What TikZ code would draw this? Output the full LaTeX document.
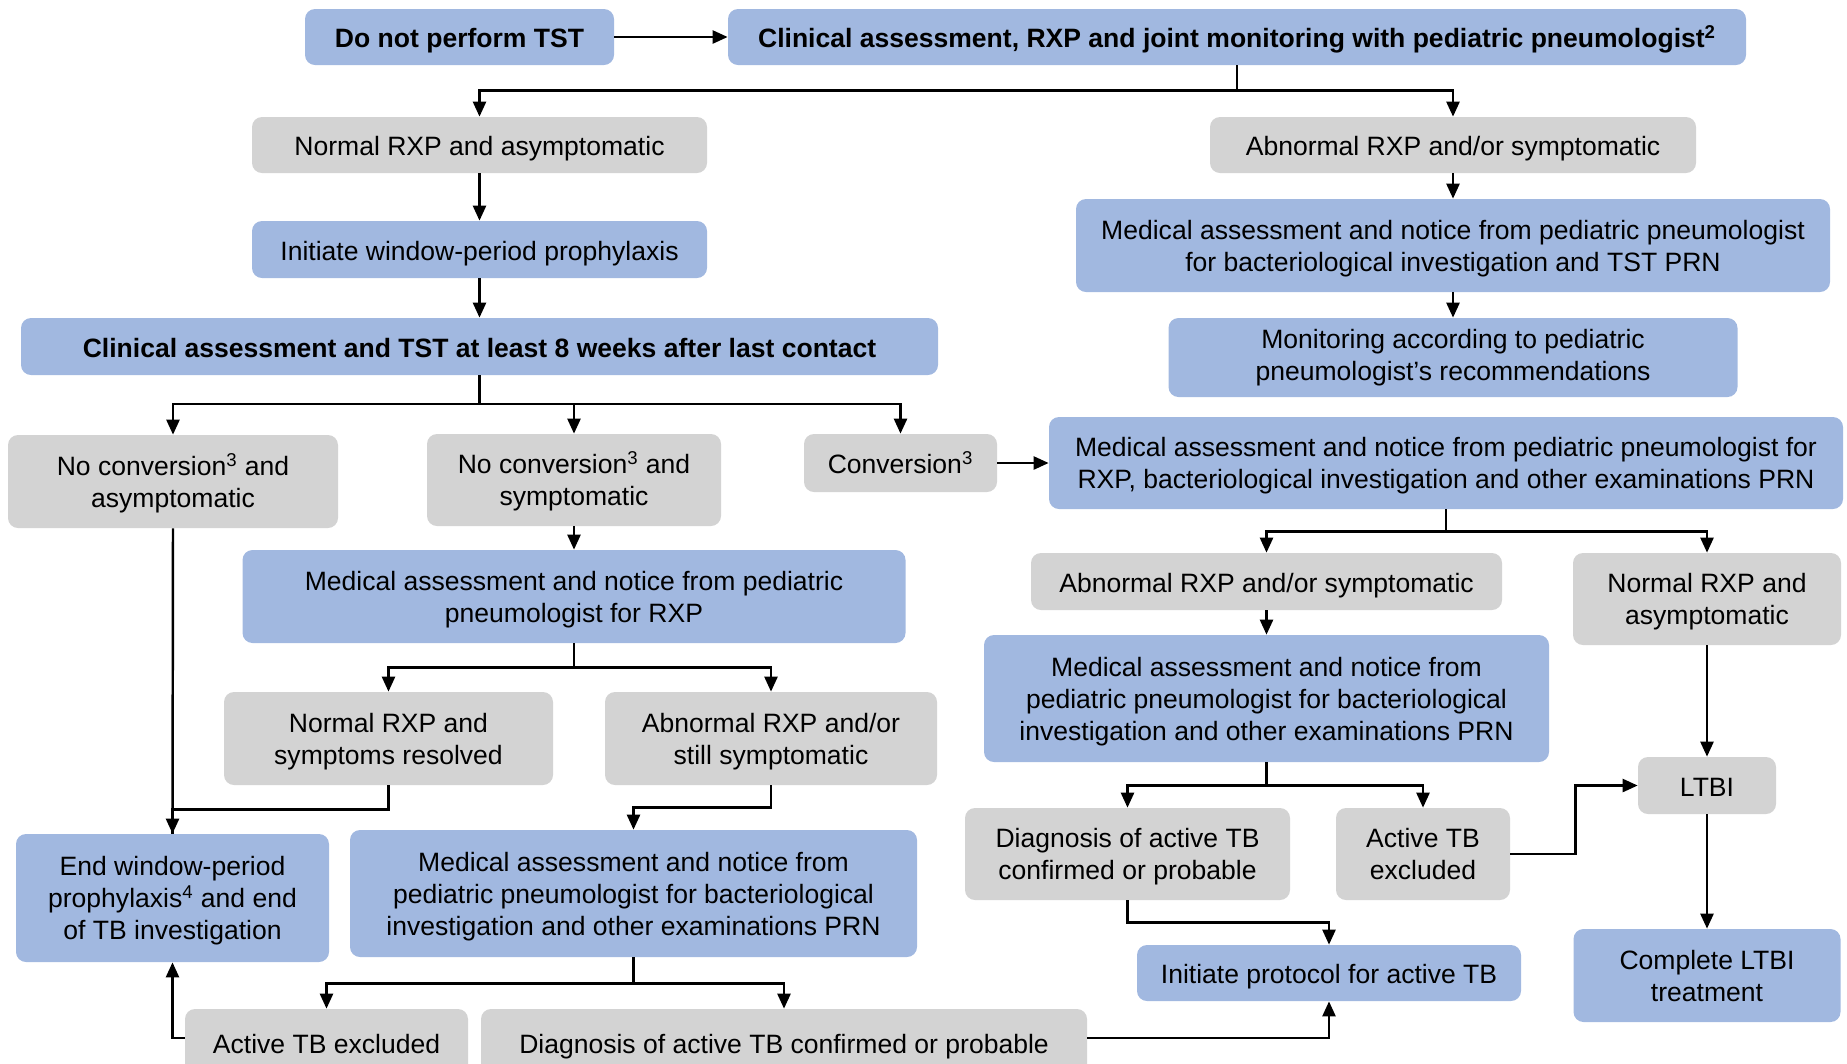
\documentclass[tikz,border=0pt]{standalone}
\usepackage{fontspec}
\setmainfont{Liberation Sans}
\usetikzlibrary{arrows.meta}
\definecolor{boxblue}{RGB}{161,184,224}
\definecolor{boxgray}{RGB}{211,211,211}
\newcommand{\boxstrut}{\rule{0pt}{0.96em}}

\begin{document}
\begin{tikzpicture}[x=0.2mm,y=-0.2mm,
  font=\fontsize{15.1}{18.2}\selectfont,
  boxw/.style={minimum width=#1*0.2mm},
  boxh/.style={minimum height=#1*0.2mm},
  box/.style={rounded corners=2mm,inner sep=0pt,align=center,
    execute at begin node={\rule{0pt}{1.01em}},
    execute at end node={\rule[-0.212em]{0pt}{0.212em}}},
  blbox/.style={box,fill=boxblue},
  grbox/.style={box,fill=boxgray},
  ln/.style={line width=1.4pt},
  arr/.style={ln,-{Triangle[length=3mm,width=2.6mm]}}]
\useasboundingbox (0,0) rectangle (1847,1063);

% top row
\node (dnp) at (459.5,37) [blbox,boxw=309,boxh=56] {\bfseries Do not perform TST};
\node (clin) at (1237,37) [blbox,boxw=1018,boxh=56] {\bfseries Clinical assessment, RXP and joint monitoring with pediatric pneumologist\textsuperscript{2}};

% left column
\node (nrxp1) at (479.5,145) [grbox,boxw=455,boxh=56] {Normal RXP and asymptomatic};
\node (iwpp) at (479.5,249.5) [blbox,boxw=455,boxh=57] {Initiate window-period prophylaxis};
\node (ctst) at (479.5,346.5) [blbox,boxw=917,boxh=57] {\bfseries Clinical assessment and TST at least 8 weeks after last contact};
\node (nc1) at (173,481.5) [grbox,boxw=330,boxh=93] {\boxstrut No conversion\textsuperscript{3} and\\asymptomatic};
\node (nc2) at (574,480) [grbox,boxw=294,boxh=92] {\boxstrut No conversion\textsuperscript{3} and\\symptomatic};
\node (conv) at (900.5,463) [grbox,boxw=193,boxh=58] {Conversion\textsuperscript{3}};
\node (med2) at (574,596.5) [blbox,boxw=663,boxh=93] {\boxstrut Medical assessment and notice from pediatric\\pneumologist for RXP};
\node (nrsr) at (388.5,738.5) [grbox,boxw=329,boxh=93] {\boxstrut Normal RXP and\\symptoms resolved};
\node (arss) at (771,738.5) [grbox,boxw=332,boxh=93] {\boxstrut Abnormal RXP and/or\\still symptomatic};
\node (endw) at (172.5,898) [blbox,boxw=313,boxh=128] {\boxstrut End window-period\\prophylaxis\textsuperscript{4} and end\\of TB investigation};
\node (med3) at (633.5,893.5) [blbox,boxw=567,boxh=127] {\boxstrut Medical assessment and notice from\\pediatric pneumologist for bacteriological\\investigation and other examinations PRN};
\node (atbe1) at (326.5,1043) [grbox,boxw=283,boxh=68] {Active TB excluded};
\node (diag1) at (784,1043) [grbox,boxw=606,boxh=68] {Diagnosis of active TB confirmed or probable};

% right column
\node (arxp1) at (1453,145) [grbox,boxw=486,boxh=56] {Abnormal RXP and/or symptomatic};
\node (med1) at (1453,245.5) [blbox,boxw=754,boxh=93] {\boxstrut Medical assessment and notice from pediatric pneumologist\\for bacteriological investigation and TST PRN};
\node (mon) at (1453,357.5) [blbox,boxw=569,boxh=79] {Monitoring according to pediatric\\pneumologist's recommendations};
\node (med4) at (1446,463) [blbox,boxw=794,boxh=92] {\boxstrut Medical assessment and notice from pediatric pneumologist for\\RXP, bacteriological investigation and other examinations PRN};
\node (arxp2) at (1266.5,581.5) [grbox,boxw=471,boxh=57] {Abnormal RXP and/or symptomatic};
\node (nrxp2) at (1707,599) [grbox,boxw=268,boxh=92] {\boxstrut Normal RXP and\\asymptomatic};
\node (med5) at (1266.5,698.5) [blbox,boxw=565,boxh=127] {\boxstrut Medical assessment and notice from\\pediatric pneumologist for bacteriological\\investigation and other examinations PRN};
\node (ltbi) at (1707,785.5) [grbox,boxw=138,boxh=57] {LTBI};
\node (diag2) at (1127.5,854) [grbox,boxw=325,boxh=92] {\boxstrut Diagnosis of active TB\\confirmed or probable};
\node (atbe2) at (1423,854) [grbox,boxw=174,boxh=92] {\boxstrut Active TB\\excluded};
\node (itp) at (1329,973) [blbox,boxw=384,boxh=56] {Initiate protocol for active TB};
\node (cltbi) at (1707,975.5) [blbox,boxw=267,boxh=93] {\boxstrut Complete LTBI\\treatment};

% connectors
\draw[arr] (dnp) -- (clin);
\draw[arr] (clin.south) -- ++(0,25) -| (nrxp1.north);
\draw[arr] (clin.south) -- ++(0,25) -| (arxp1.north);
\draw[arr] (nrxp1) -- (iwpp);
\draw[arr] (iwpp) -- (ctst);
\draw[arr] (arxp1) -- (med1);
\draw[arr] (med1) -- (mon);
\draw[arr] (ctst.south) -- ++(0,28.5) -| (nc1.north);
\draw[arr] (ctst.south) -- ++(0,28.5) -| (nc2.north);
\draw[arr] (ctst.south) -- ++(0,28.5) -| (conv.north);
\draw[arr] (nc2) -- (med2);
\draw[arr] (conv) -- (med4);
\draw[arr] (med2.south) -- ++(0,24) -| (nrsr.north);
\draw[arr] (med2.south) -- ++(0,24) -| (arss.north);
\draw[arr] (nc1.south) -- (endw.north);
\draw[ln] (nrsr.south) -- ++(0,24) -| (endw.north);
\draw[arr] (arss.south) -- ++(0,22) -| (med3.north);
\draw[arr] (med3.south) -- ++(0,26) -| (atbe1.north);
\draw[arr] (med3.south) -- ++(0,26) -| (diag1.north);
\draw[arr] ([yshift=1mm]atbe1.west) -| (endw.south);
\draw[arr] ([yshift=1mm]diag1.east) -| (itp.south);
\draw[arr] (med4.south) -- ++(0,22) -| (arxp2.north);
\draw[arr] (med4.south) -- ++(0,22) -| (nrxp2.north);
\draw[arr] (arxp2) -- (med5);
\draw[arr] (med5.south) -- ++(0,23) -| (diag2.north);
\draw[arr] (med5.south) -- ++(0,23) -| (atbe2.north);
\draw[arr] (diag2.south) -- ++(0,22) -| (itp.north);
\draw[arr] (atbe2.east) -- ++(65,0) |- (ltbi.west);
\draw[arr] (nrxp2) -- (ltbi);
\draw[arr] (ltbi) -- (cltbi);
\end{tikzpicture}
\end{document}
